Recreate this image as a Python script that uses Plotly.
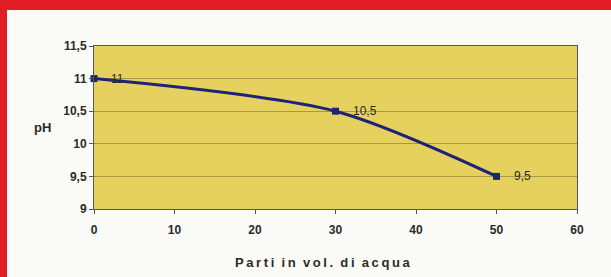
import plotly.graph_objects as go

x_vals = [0, 30, 50]
ph_vals = [11, 10.5, 9.5]
point_labels = ["11", "10,5", "9,5"]
x_ticks = [0, 10, 20, 30, 40, 50, 60]
y_ticks = [9, 9.5, 10, 10.5, 11, 11.5]
y_tick_labels = ["9", "9,5", "10", "10,5", "11", "11,5"]
x_title = "Parti in vol. di acqua"

navy = "#1c2478"
txt = "#2a2a2a"
W, H = 611, 277
L, R, T, B = 94, 34, 46, 68
pw, ph = W - L - R, H - T - B

fig = go.Figure()
fig.add_trace(go.Scatter(
    x=x_vals, y=ph_vals, mode="lines+markers",
    line=dict(color=navy, width=3, shape="spline", smoothing=0.8),
    marker=dict(symbol="square", size=7, color=navy),
    cliponaxis=False, hoverinfo="skip"))

spaced_title = "\u00a0\u00a0".join("\u2009".join(w) for w in x_title.split(" "))

annotations = [
    dict(x=xv, y=yv, text=lab, showarrow=False, xanchor="left", xshift=15, yshift=0,
         font=dict(family="Liberation Sans", size=12, color=txt))
    for xv, yv, lab in zip(x_vals, ph_vals, point_labels)
]
annotations.append(dict(text="<b>pH</b>", xref="paper", yref="paper", x=-52/pw, y=0.5,
                        xanchor="center", yanchor="middle",
                        showarrow=False, font=dict(family="Liberation Sans", size=13, color=txt)))
annotations.append(dict(text="<b>" + spaced_title + "</b>", xref="paper", yref="paper",
                        x=(322 - L)/pw, y=-(262 - (H - B))/ph, xanchor="center", yanchor="middle",
                        showarrow=False, font=dict(family="Liberation Sans", size=13, color=txt)))

fig.update_layout(
    width=W, height=H,
    margin=dict(l=L, r=R, t=T, b=B),
    paper_bgcolor="#fafaf7", plot_bgcolor="#e6d05e",
    showlegend=False,
    separators=",.",
    font=dict(family="Liberation Sans", size=11, color=txt),
    shapes=[
        dict(type="rect", xref="paper", yref="paper", x0=-L/pw, x1=(W - L)/pw,
             y0=1 + (T - 10)/ph, y1=1 + T/ph, fillcolor="#e21d26", line_width=0, layer="below"),
        dict(type="rect", xref="paper", yref="paper", x0=-L/pw, x1=-(L - 7)/pw,
             y0=-B/ph, y1=1 + T/ph, fillcolor="#e21d26", line_width=0, layer="below"),
    ],
    annotations=annotations,
)
fig.update_xaxes(
    range=[0, 60], tickvals=x_ticks, showgrid=False, zeroline=False,
    showline=True, linecolor="#555", linewidth=1, mirror=True,
    ticks="outside", ticklen=4, tickcolor="#555", automargin=False,
    ticklabelstandoff=6,
    tickfont=dict(family="Liberation Sans", size=12, color=txt, weight="bold"))
fig.update_yaxes(
    range=[9, 11.5], tickvals=y_ticks, ticktext=y_tick_labels,
    showgrid=True, gridcolor="#a69a48", gridwidth=1, zeroline=False,
    showline=True, linecolor="#555", linewidth=1, mirror=True,
    ticks="outside", ticklen=4, tickcolor="#555", automargin=False,
    tickfont=dict(family="Liberation Sans", size=12, color=txt, weight="bold"))

fig.write_html("out.html", config={"displayModeBar": False},
               post_script="document.body.style.margin='0';document.body.style.overflow='hidden';")
